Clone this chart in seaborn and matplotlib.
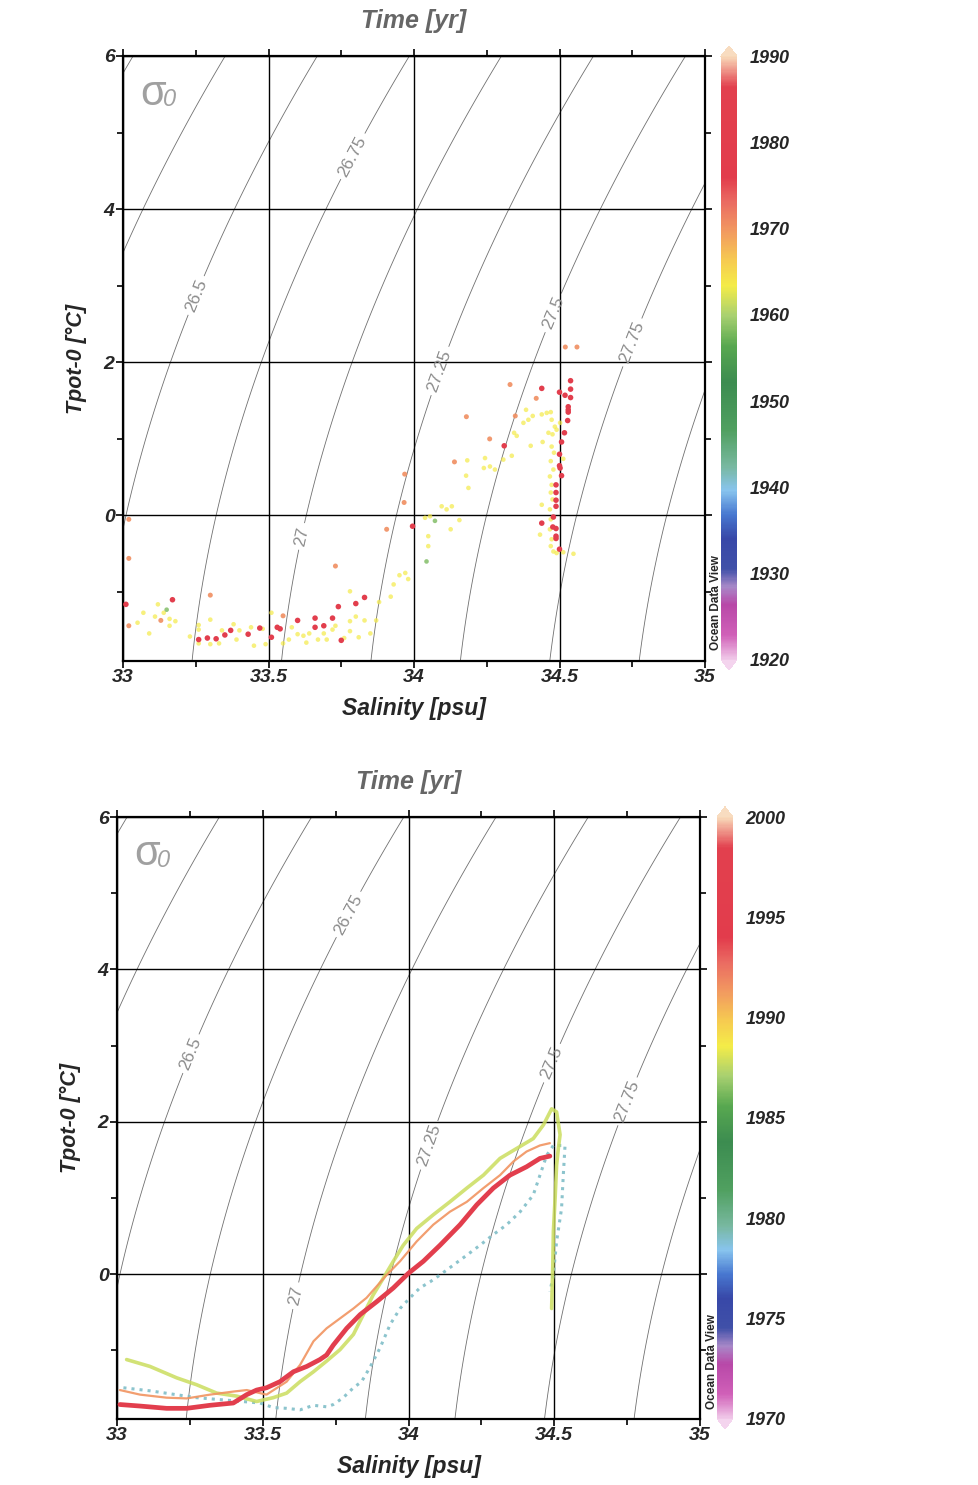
import numpy as np
import pandas as pd
import matplotlib
matplotlib.use("Agg")
import matplotlib.pyplot as plt
import seaborn as sns
from matplotlib.colors import LinearSegmentedColormap, Normalize
from matplotlib.ticker import MultipleLocator, FuncFormatter
from matplotlib.cm import ScalarMappable

sns.set_theme(style="white")
plt.rcParams['font.family'] = ['Liberation Sans', 'DejaVu Sans']

# ---------------- DATA ----------------
# Top panel (colour = year)
top_yellow_S = [33.07, 33.11, 33.12, 33.14, 33.16, 33.18, 33.16, 33.09, 33.05, 33.23, 33.26, 33.26,
                33.26, 33.30, 33.30, 33.33, 33.34, 33.38, 33.39, 33.40, 33.44, 33.45, 33.48, 33.49,
                33.51, 33.55, 33.57, 33.58, 33.60, 33.62, 33.63, 33.64, 33.67, 33.69, 33.70, 33.72,
                33.73, 33.76, 33.78, 33.78, 33.78, 33.80, 33.81, 33.83, 33.85, 33.87, 33.88, 33.92,
                33.93, 33.95, 33.97, 33.98,
                34.038, 34.055, 34.095, 34.112, 34.13, 34.126, 34.156, 34.049, 34.049, 34.179,
                34.187, 34.183, 34.244, 34.24, 34.261, 34.278, 34.307, 34.336, 34.353, 34.344,
                34.376, 34.393, 34.408, 34.385, 34.439, 34.456, 34.47, 34.401, 34.442, 34.513,
                34.473, 34.484, 34.476, 34.49, 34.473, 34.481, 34.47, 34.479, 34.467, 34.473,
                34.47, 34.476, 34.467, 34.439, 34.47, 34.467, 34.433, 34.473, 34.47, 34.479,
                34.49, 34.513, 34.548, 34.502, 34.462]
top_yellow_T = [-1.27, -1.32, -1.16, -1.27, -1.35, -1.38, -1.44, -1.54, -1.40, -1.58, -1.43, -1.67,
                -1.49, -1.36, -1.68, -1.67, -1.50, -1.42, -1.62, -1.50, -1.46, -1.70, -1.48, -1.68,
                -1.27, -1.67, -1.62, -1.46, -1.55, -1.57, -1.66, -1.54, -1.62, -1.54, -1.62, -1.49,
                -1.44, -1.60, -0.99, -1.38, -1.51, -1.32, -1.59, -1.37, -1.54, -1.37, -1.13, -1.06,
                -0.90, -0.78, -0.75, -0.83,
                -0.03, -0.01, 0.12, 0.08, 0.12, -0.18, -0.06, -0.27, -0.40, 0.52,
                0.36, 0.72, 0.75, 0.62, 0.64, 0.60, 0.73, 0.78, 1.04, 1.08,
                1.21, 1.25, 1.30, 1.38, 1.32, 1.34, 1.35, 0.91, 0.96, 0.74,
                1.25, 1.16, 1.06, 1.12, 0.90, 0.82, 0.71, 0.60, 0.51, 0.40,
                0.30, 0.21, 0.08, 0.14, -0.05, -0.18, -0.25, -0.31, -0.40, -0.47,
                -0.49, -0.48, -0.50, 1.21, 1.08]
top_yellow_year = 1963.5

top_green_S = [33.15, 34.072, 34.043]
top_green_T = [-1.23, -0.07, -0.60]
top_green_year = 1958

top_orange_S = [33.30, 33.02, 33.55, 33.73, 33.13, 33.02, 33.02, 34.33, 34.42, 34.348, 34.18,
                34.26, 34.139, 33.968, 33.966, 33.906, 34.52, 34.56]
top_orange_T = [-1.04, -1.44, -1.31, -0.66, -1.37, -0.05, -0.56, 1.71, 1.53, 1.30, 1.29,
                1.00, 0.70, 0.54, 0.17, -0.18, 2.20, 2.20]
top_orange_year = 1970.5

top_red_S = [33.01, 33.17, 33.26, 33.29, 33.32, 33.35, 33.37, 33.43, 33.47, 33.51, 33.53, 33.54,
             33.60, 33.66, 33.66, 33.69, 33.72, 33.74, 33.75, 33.80, 33.83,
             34.439, 34.538, 34.538, 34.50, 34.519, 34.538, 34.53, 34.53, 34.53, 34.528, 34.517,
             34.507, 34.50, 34.50, 34.502, 34.507, 34.488, 34.488, 34.488, 34.488, 34.479, 34.477,
             34.488, 34.488, 34.488, 34.50, 34.439, 34.31, 33.995]
top_red_T = [-1.16, -1.10, -1.62, -1.60, -1.61, -1.56, -1.50, -1.55, -1.47, -1.59, -1.46, -1.48,
             -1.37, -1.34, -1.46, -1.44, -1.34, -1.19, -1.63, -1.15, -1.07,
             1.66, 1.76, 1.65, 1.61, 1.57, 1.54, 1.42, 1.38, 1.35, 1.24, 1.08,
             0.96, 0.80, 0.65, 0.62, 0.52, 0.40, 0.30, 0.20, 0.12, -0.02, -0.15,
             -0.17, -0.27, -0.30, -0.44, -0.10, 0.91, -0.14]
top_red_year = 1980

# Bottom panel profiles
bot_red_S = [33.010, 33.079, 33.170, 33.239, 33.319, 33.399, 33.445, 33.479, 33.513, 33.559, 33.605,
             33.651, 33.696, 33.719, 33.742, 33.788, 33.834, 33.891, 33.948, 33.999, 34.051, 34.108,
             34.177, 34.234, 34.291, 34.348, 34.405, 34.451, 34.485]
bot_red_T = [-1.71, -1.73, -1.76, -1.76, -1.72, -1.69, -1.58, -1.52, -1.49, -1.41, -1.28,
             -1.21, -1.12, -1.06, -0.93, -0.71, -0.53, -0.36, -0.18, 0.01, 0.17, 0.38,
             0.65, 0.91, 1.13, 1.30, 1.41, 1.52, 1.55]
bot_red_year = 1996

bot_orange_S = [33.010, 33.079, 33.170, 33.239, 33.319, 33.399, 33.445, 33.513, 33.582, 33.628,
                33.674, 33.719, 33.765, 33.811, 33.856, 33.925, 33.971, 34.028, 34.085, 34.142,
                34.200, 34.257, 34.314, 34.360, 34.405, 34.451, 34.485]
bot_orange_T = [-1.52, -1.58, -1.62, -1.63, -1.58, -1.54, -1.52, -1.58, -1.41, -1.19,
                -0.88, -0.71, -0.58, -0.45, -0.31, -0.01, 0.17, 0.43, 0.65, 0.82,
                0.95, 1.13, 1.30, 1.48, 1.61, 1.69, 1.72]
bot_orange_year = 1991.5

bot_yellow_S = [33.033, 33.113, 33.205, 33.273, 33.342, 33.411, 33.479, 33.536, 33.582, 33.628,
                33.674, 33.719, 33.765, 33.811, 33.845, 33.879, 33.914, 33.948, 33.982, 34.028,
                34.085, 34.142, 34.200, 34.257, 34.314, 34.371, 34.428, 34.463, 34.491, 34.508,
                34.520, 34.514, 34.508, 34.503, 34.497, 34.495, 34.491]
bot_yellow_T = [-1.12, -1.21, -1.36, -1.45, -1.56, -1.60, -1.67, -1.62, -1.56, -1.41,
                -1.28, -1.14, -0.99, -0.79, -0.53, -0.27, -0.05, 0.17, 0.38, 0.60,
                0.78, 0.95, 1.13, 1.30, 1.52, 1.65, 1.78, 1.96, 2.17, 2.13,
                1.83, 1.65, 1.43, 1.00, 0.56, 0.12, -0.45]
bot_yellow_year = 1987.8

bot_cyan_S = [33.022, 33.113, 33.273, 33.491, 33.536, 33.582, 33.628, 33.674, 33.719, 33.742,
              33.776, 33.811, 33.839, 33.868, 33.902, 33.937, 33.971, 34.005, 34.039, 34.074,
              34.108, 34.154, 34.200, 34.245, 34.291, 34.337, 34.383, 34.428, 34.451, 34.474,
              34.497, 34.537, 34.531, 34.525, 34.508, 34.497, 34.485]
bot_cyan_T = [-1.49, -1.53, -1.62, -1.69, -1.75, -1.76, -1.78, -1.72, -1.74, -1.71,
              -1.62, -1.49, -1.41, -1.22, -0.97, -0.66, -0.45, -0.31, -0.18, -0.10,
              -0.01, 0.12, 0.25, 0.38, 0.52, 0.65, 0.82, 1.04, 1.30, 1.56,
              1.69, 1.69, 1.30, 0.86, 0.43, -0.01, -0.23]
bot_cyan_year = 1979

unlabeled_levels = [26.0, 26.25, 28.0]
labeled_levels = [26.5, 26.75, 27.0, 27.25, 27.5, 27.75]
top_years = (1920, 1990)
bot_years = (1970, 2000)
top_cbar_ticks = [1920, 1930, 1940, 1950, 1960, 1970, 1980, 1990]
bot_cbar_ticks = [1970, 1975, 1980, 1985, 1990, 1995, 2000]

# label placement (layout)
top_label_pos = [(33.247, 2.88), (33.78, 4.71), (33.61, -0.27), (34.08, 1.90), (34.47, 2.66), (34.75, 2.26)]
bot_label_pos = [(33.25, 2.90), (33.79, 4.73), (33.61, -0.28), (34.08, 1.68), (34.48, 2.79), (34.75, 2.27)]

# ---------------- STYLE ----------------
stops = [(0.00, '#f0c8e8'), (0.04, '#d060b8'), (0.09, '#b848a8'), (0.12, '#a888c8'),
         (0.15, '#4050a8'), (0.20, '#3848a8'), (0.24, '#4878d0'), (0.28, '#88c4ee'),
         (0.32, '#78b8a0'), (0.38, '#50a060'), (0.46, '#3c8c50'), (0.52, '#58a850'),
         (0.57, '#a8d070'), (0.62, '#f4ec48'), (0.66, '#f6cc50'), (0.71, '#f29a60'),
         (0.76, '#ea6a62'), (0.80, '#e23c4c'), (0.95, '#e2404e'), (1.00, '#f8d8b8')]
odv = LinearSegmentedColormap.from_list('odv', stops, N=512)
odv.set_over('#f8dcc0')
odv.set_under('#f4d4ee')


def sigma0(S, T):
    rho_w = (999.842594 + 6.793952e-2 * T - 9.095290e-3 * T**2 + 1.001685e-4 * T**3
             - 1.120083e-6 * T**4 + 6.536332e-9 * T**5)
    A = 8.24493e-1 - 4.0899e-3 * T + 7.6438e-5 * T**2 - 8.2467e-7 * T**3 + 5.3875e-9 * T**4
    B = -5.72466e-3 + 1.0227e-4 * T - 1.6546e-6 * T**2
    C = 4.8314e-4
    return rho_w + A * S + B * S**1.5 + C * S**2 - 1000.0


fig = plt.figure(figsize=(9.79, 14.85), dpi=100)
fig.patch.set_facecolor('white')

ax1 = fig.add_axes([0.12564, 0.55488, 0.59449, 0.40741])
ax2 = fig.add_axes([0.11951, 0.04444, 0.59551, 0.40539])
cax1 = fig.add_axes([0.73646, 0.54882, 0.01634, 0.42020])
cax2 = fig.add_axes([0.73238, 0.03771, 0.01634, 0.41886])


def setup(ax, label_pos):
    ax.set_xlim(33, 35)
    ax.set_ylim(-1.9, 6)
    Sg = np.linspace(32.9, 35.1, 300)
    Tg = np.linspace(-2.3, 6.3, 300)
    SS, TT = np.meshgrid(Sg, Tg)
    sig = sigma0(SS, TT)
    ax.contour(SS, TT, sig, levels=unlabeled_levels, colors='#707070', linewidths=0.6, zorder=1)
    cs = ax.contour(SS, TT, sig, levels=labeled_levels, colors='#707070', linewidths=0.6, zorder=1)
    ax.clabel(cs, inline=True, inline_spacing=4, fontsize=12.5,
              fmt=lambda v: f'{v:g}', manual=label_pos, colors='#8c8c8c')
    ax.set_xlim(33, 35)
    ax.set_ylim(-1.9, 6)
    ax.xaxis.set_major_locator(MultipleLocator(0.5))
    ax.xaxis.set_minor_locator(MultipleLocator(0.25))
    ax.yaxis.set_major_locator(MultipleLocator(2))
    ax.yaxis.set_minor_locator(MultipleLocator(1))
    ax.xaxis.set_major_formatter(FuncFormatter(lambda v, p: f'{v:g}'))
    ax.yaxis.set_major_formatter(FuncFormatter(lambda v, p: f'{v:g}'))
    ax.grid(True, which='major', color='black', linewidth=1.0, zorder=2)
    ax.set_axisbelow(False)
    ax.tick_params(which='both', direction='out', top=True, right=True, bottom=True, left=True,
                   length=5, width=1.2, color='black', pad=1)
    ax.tick_params(which='minor', length=4)
    for sp in ax.spines.values():
        sp.set_visible(True); sp.set_color('black'); sp.set_linewidth(1.6)
    ax.set_title('Time [yr]', fontsize=18, fontweight='bold', fontstyle='italic', color='#666666', pad=20)
    ax.text(0.029, 0.938, 'σ', transform=ax.transAxes, fontsize=30, color='#a0a0a0',
            va='center', ha='left')
    ax.text(0.069, 0.928, '0', transform=ax.transAxes, fontsize=17, color='#a0a0a0',
            fontstyle='italic', va='center', ha='left')
    ax.set_facecolor('white')


setup(ax1, top_label_pos)
setup(ax2, bot_label_pos)

# top panel scatter
norm1 = Normalize(*top_years)
groups = [(top_yellow_S, top_yellow_T, top_yellow_year, 11, 0.7),
          (top_green_S, top_green_T, top_green_year, 11, 0.8),
          (top_orange_S, top_orange_T, top_orange_year, 13, 0.9),
          (top_red_S, top_red_T, top_red_year, 16, 1.0)]
for S, T, yr, size, alpha in groups:
    df = pd.DataFrame({'S': S, 'T': T, 'year': [yr] * len(S)})
    sns.scatterplot(data=df, x='S', y='T', hue='year', palette=odv, hue_norm=norm1, s=size,
                    linewidth=0, alpha=alpha, legend=False, ax=ax1, zorder=4)

# bottom panel profiles
norm2 = Normalize(*bot_years)
profiles = [(bot_cyan_S, bot_cyan_T, bot_cyan_year, 2.2, ':', 0.9),
            (bot_yellow_S, bot_yellow_T, bot_yellow_year, 2.6, '-', 0.85),
            (bot_orange_S, bot_orange_T, bot_orange_year, 1.6, '-', 0.9),
            (bot_red_S, bot_red_T, bot_red_year, 3.4, '-', 1.0)]
for S, T, yr, lw, ls, alpha in profiles:
    df = pd.DataFrame({'S': S, 'T': T})
    sns.lineplot(data=df, x='S', y='T', sort=False, estimator=None, color=odv(norm2(yr)),
                 linewidth=lw, linestyle=ls, alpha=alpha, ax=ax2, zorder=4)

for ax in (ax1, ax2):
    ax.set_xlim(33, 35)
    ax.set_ylim(-1.9, 6)
    ax.set_xlabel('Salinity [psu]', fontsize=16.5, fontweight='bold', fontstyle='italic', labelpad=8)
    ax.set_ylabel('Tpot-0 [°C]', fontsize=15.5, fontweight='bold', fontstyle='italic', labelpad=12)
    for t in ax.get_xticklabels() + ax.get_yticklabels():
        t.set_fontweight('bold'); t.set_fontstyle('italic'); t.set_fontsize(14)


def make_cbar(cax, norm, ticks):
    sm = ScalarMappable(norm=norm, cmap=odv)
    cb = fig.colorbar(sm, cax=cax, extend='both', extendfrac=0.017)
    cb.outline.set_visible(False)
    cb.set_ticks(ticks)
    cax.tick_params(length=0, pad=9)
    for t in cax.get_yticklabels():
        t.set_fontweight('bold'); t.set_fontstyle('italic'); t.set_fontsize(13)
    return cb


make_cbar(cax1, norm1, top_cbar_ticks)
make_cbar(cax2, norm2, bot_cbar_ticks)

fig.text(716 / 979, 1 - 603 / 1485, 'Ocean Data View', rotation=90, fontsize=8.5, fontweight='bold',
         ha='center', va='center')
fig.text(712 / 979, 1 - 1362 / 1485, 'Ocean Data View', rotation=90, fontsize=8.5, fontweight='bold',
         ha='center', va='center')

fig.savefig('out.png', dpi=100, facecolor='white')
